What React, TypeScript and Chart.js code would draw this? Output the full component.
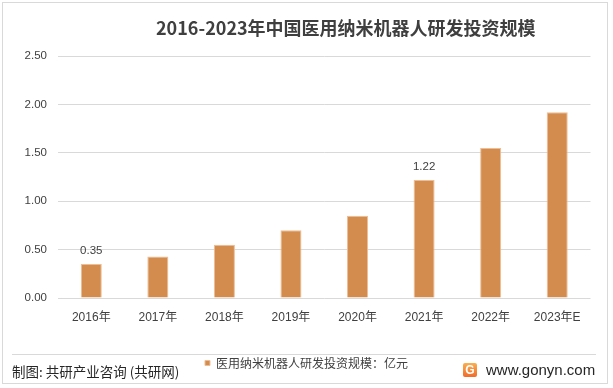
import React, { useEffect, useRef } from "react";
import { Chart, registerables } from "chart.js";

Chart.register(...registerables);

const categories = ["2016年", "2017年", "2018年", "2019年", "2020年", "2021年", "2022年", "2023年E"];
const seriesName = "医用纳米机器人研发投资规模：亿元";
const investment = [0.35, 0.43, 0.55, 0.7, 0.85, 1.22, 1.55, 1.92];
const labeledIndices = [0, 5];
const yTicks = [0, 0.5, 1, 1.5, 2, 2.5];
const titleText = "2016-2023年中国医用纳米机器人研发投资规模";
const sourceText = "制图: 共研产业咨询 (共研网)";
const siteText = "www.gonyn.com";

const BAR_COLOR = "#D48C4E";
const TEXT_COLOR = "#404040";
const GRID_COLOR = "#D9D9D9";
const LATIN = "'Liberation Sans', 'Noto Sans CJK SC', sans-serif";
const CJK = "'Noto Sans CJK SC', 'Liberation Sans', sans-serif";

const valueLabelPlugin = {
  id: "valueLabels",
  afterDatasetsDraw(chart: any) {
    const ctx = chart.ctx;
    const meta = chart.getDatasetMeta(0);
    ctx.save();
    ctx.font = `11.5px ${LATIN}`;
    ctx.fillStyle = TEXT_COLOR;
    ctx.textAlign = "center";
    ctx.textBaseline = "middle";
    labeledIndices.forEach((i) => {
      const el = meta.data[i];
      if (!el) return;
      ctx.fillText(investment[i].toFixed(2), el.x, el.y - 13);
    });
    ctx.restore();
  },
};

// Center the legend on the whole canvas rather than on the padded layout box.
const legendCenterPlugin = {
  id: "legendCenter",
  afterLayout(chart: any) {
    const lg = chart.legend;
    if (!lg) return;
    lg.left = 0;
    lg.right = chart.width;
    lg.width = chart.width;
  },
};

export default function App() {
  const canvasRef = useRef<HTMLCanvasElement | null>(null);

  useEffect(() => {
    const canvas = canvasRef.current;
    if (!canvas) return;
    const chart = new Chart(canvas, {
      type: "bar",
      data: {
        labels: categories,
        datasets: [
          {
            label: seriesName,
            data: investment,
            backgroundColor: BAR_COLOR,
            borderColor: "#EDBE95",
            borderWidth: 1,
            barPercentage: 0.316,
            categoryPercentage: 1,
          },
        ],
      },
      options: {
        responsive: false,
        animation: false,
        devicePixelRatio: 1,
        layout: { padding: { left: 0, right: 22.5, top: 56, bottom: 9 } },
        plugins: {
          title: { display: false },
          tooltip: { enabled: false },
          legend: {
            display: true,
            position: "bottom",
            labels: {
              boxWidth: 5,
              boxHeight: 5,
              padding: 8,
              color: TEXT_COLOR,
              font: { size: 12, family: CJK },
            },
          },
        },
        scales: {
          x: {
            grid: { display: false, drawTicks: false },
            border: { display: false },
            ticks: {
              color: TEXT_COLOR,
              padding: 12,
              font: { size: 12, family: LATIN },
              maxRotation: 0,
              autoSkip: false,
            },
            afterFit(scale: any) {
              scale.height = 51;
            },
          },
          y: {
            min: 0,
            max: 2.5,
            grid: { color: GRID_COLOR, lineWidth: 1, drawTicks: false },
            border: { display: false },
            afterBuildTicks(scale: any) {
              scale.ticks = yTicks.map((v) => ({ value: v }));
            },
            ticks: {
              color: TEXT_COLOR,
              padding: 11,
              font: { size: 11.5, family: LATIN },
              callback: (v: any) => Number(v).toFixed(2),
            },
            afterFit(scale: any) {
              scale.width = 58;
            },
          },
        },
      },
      plugins: [valueLabelPlugin, legendCenterPlugin],
    });
    return () => chart.destroy();
  }, []);

  return (
    <div
      style={{
        position: "fixed",
        left: 0,
        top: 0,
        width: 613,
        height: 388,
        background: "#ffffff",
        overflow: "hidden",
      }}
    >
      <canvas
        ref={canvasRef}
        width={613}
        height={388}
        style={{ position: "absolute", left: 0, top: 0, width: 613, height: 388 }}
      />
      <div
        style={{
          position: "absolute",
          left: 2,
          top: 2,
          width: 604,
          height: 380,
          border: "1px solid #D9D9D9",
          pointerEvents: "none",
        }}
      />
      <div
        style={{
          position: "absolute",
          left: 156,
          top: 17,
          fontFamily: CJK,
          fontWeight: 700,
          fontSize: 18,
          lineHeight: "20px",
          color: "#3F3F3F",
          whiteSpace: "nowrap",
        }}
      >
        {titleText}
      </div>
      <div
        style={{
          position: "absolute",
          left: 12,
          top: 354,
          width: 584,
          height: 1,
          background: GRID_COLOR,
        }}
      />
      <div
        style={{
          position: "absolute",
          left: 12,
          top: 362,
          fontFamily: CJK,
          fontSize: 13.5,
          lineHeight: "18px",
          color: "#262626",
          whiteSpace: "nowrap",
        }}
      >
        {sourceText}
      </div>
      <div
        style={{
          position: "absolute",
          left: 463,
          top: 363,
          width: 14,
          height: 14,
          borderRadius: 2,
          background: "linear-gradient(180deg, #F9B04E 0%, #F16A2A 100%)",
          color: "#ffffff",
          fontFamily: LATIN,
          fontWeight: 700,
          fontSize: 12,
          lineHeight: "14px",
          textAlign: "center",
        }}
      >
        G
      </div>
      <div
        style={{
          position: "absolute",
          left: 486,
          top: 361,
          fontFamily: LATIN,
          fontSize: 15,
          lineHeight: "18px",
          color: "#262626",
          whiteSpace: "nowrap",
        }}
      >
        {siteText}
      </div>
    </div>
  );
}
